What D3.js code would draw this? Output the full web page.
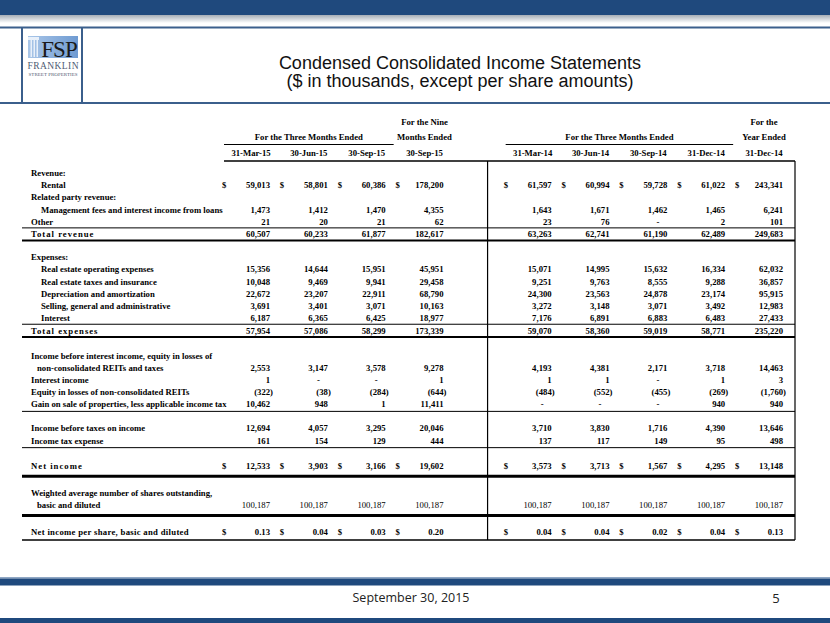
<!DOCTYPE html>
<html><head><meta charset="utf-8">
<script src="https://cdn.jsdelivr.net/npm/d3@7"></script>
<style>body{margin:0;background:#fff}svg{display:block}</style>
</head><body><svg id="c" width="830" height="623"></svg>
<script>
const _ = null;
const rowLabels = ["Revenue:","Rental","Related party revenue:","Management fees and interest income from loans","Other","Total revenue","",
"Expenses:","Real estate operating expenses","Real estate taxes and insurance","Depreciation and amortization","Selling, general and administrative","Interest","Total expenses","",
"Income before interest income, equity in losses of","non-consolidated REITs and taxes","Interest income","Equity in losses of non-consolidated REITs","Gain on sale of properties, less applicable income tax","",
"Income before taxes on income","Income tax expense","","Net income","","Weighted average number of shares outstanding,","basic and diluted","","Net income per share, basic and diluted"];
const colDates = ["31-Mar-15","30-Jun-15","30-Sep-15","30-Sep-15","31-Mar-14","30-Jun-14","30-Sep-14","31-Dec-14","31-Dec-14"];
const groupHeaders = [
  {from:0,to:2,lines:["For the Three Months Ended"],rule:true},
  {from:3,to:3,lines:["For the Nine","Months Ended"],rule:false},
  {from:4,to:7,lines:["For the Three Months Ended"],rule:true},
  {from:8,to:8,lines:["For the","Year Ended"],rule:false}];
const q1_2015 = [_,59013,_,1473,21,60507,_,_,15356,10048,22672,3691,6187,57954,_,_,2553,1,-322,10462,_,12694,161,_,12533,_,_,100187,_,0.13];
const q2_2015 = [_,58801,_,1412,20,60233,_,_,14644,9469,23207,3401,6365,57086,_,_,3147,0,-38,948,_,4057,154,_,3903,_,_,100187,_,0.04];
const q3_2015 = [_,60386,_,1470,21,61877,_,_,15951,9941,22911,3071,6425,58299,_,_,3578,0,-284,1,_,3295,129,_,3166,_,_,100187,_,0.03];
const nine_2015 = [_,178200,_,4355,62,182617,_,_,45951,29458,68790,10163,18977,173339,_,_,9278,1,-644,11411,_,20046,444,_,19602,_,_,100187,_,0.20];
const q1_2014 = [_,61597,_,1643,23,63263,_,_,15071,9251,24300,3272,7176,59070,_,_,4193,1,-484,0,_,3710,137,_,3573,_,_,100187,_,0.04];
const q2_2014 = [_,60994,_,1671,76,62741,_,_,14995,9763,23563,3148,6891,58360,_,_,4381,1,-552,0,_,3830,117,_,3713,_,_,100187,_,0.04];
const q3_2014 = [_,59728,_,1462,0,61190,_,_,15632,8555,24878,3071,6883,59019,_,_,2171,0,-455,0,_,1716,149,_,1567,_,_,100187,_,0.02];
const q4_2014 = [_,61022,_,1465,2,62489,_,_,16334,9288,23174,3492,6483,58771,_,_,3718,1,-269,940,_,4390,95,_,4295,_,_,100187,_,0.04];
const fy_2014 = [_,243341,_,6241,101,249683,_,_,62032,36857,95915,12983,27433,235220,_,_,14463,3,-1760,940,_,13646,498,_,13148,_,_,100187,_,0.13];
const columns = [q1_2015,q2_2015,q3_2015,nine_2015,q1_2014,q2_2014,q3_2014,q4_2014,fy_2014];

const svg = d3.select("#c");
const blue = "#1f497d";
// ---- frame ----
const defs = svg.append("defs");
const sh = defs.append("linearGradient").attr("id","sh").attr("x1",0).attr("x2",0).attr("y1",0).attr("y2",1);
sh.append("stop").attr("offset",0).attr("stop-color","#9aa3ad");
sh.append("stop").attr("offset",1).attr("stop-color","#ffffff");
svg.append("rect").attr("x",0).attr("y",14).attr("width",830).attr("height",9).attr("fill","url(#sh)");
svg.append("rect").attr("x",0).attr("y",0).attr("width",830).attr("height",15).attr("fill",blue);
svg.append("line").attr("x1",0).attr("x2",830).attr("y1",27.5).attr("y2",27.5).attr("stroke","#3b5f8c").attr("stroke-width",2);
svg.append("line").attr("x1",0).attr("x2",830).attr("y1",103).attr("y2",103).attr("stroke","#3b5f8c").attr("stroke-width",2);
[22,82].forEach(x=>svg.append("line").attr("x1",x).attr("x2",x).attr("y1",27).attr("y2",103).attr("stroke","#3b5f8c").attr("stroke-width",2));
// logo
const lg = defs.append("linearGradient").attr("id","lg").attr("x1",0).attr("x2",1);
lg.append("stop").attr("offset",0).attr("stop-color","#a9c6e8");
lg.append("stop").attr("offset",1).attr("stop-color","#6f9bd2");
svg.append("rect").attr("x",28).attr("y",36).attr("width",50).attr("height",22).attr("fill","url(#lg)");
[30.5,33.5,36.5].forEach(x=>svg.append("rect").attr("x",x).attr("y",40).attr("width",1.5).attr("height",17).attr("fill","#e8f0fa"));
svg.append("rect").attr("x",28).attr("y",37).attr("width",11).attr("height",3).attr("fill","#e8f0fa");
svg.append("text").attr("x",59).attr("y",56.5).attr("text-anchor","middle").attr("font-family","Liberation Serif").attr("font-size",23).attr("fill","#1a1a1a").attr("letter-spacing",-1).text("FSP");
svg.append("text").attr("x",53).attr("y",69).attr("text-anchor","middle").attr("font-family","Liberation Serif").attr("font-size",9.5).attr("fill","#4f5b73").attr("textLength",51).text("FRANKLIN");
svg.append("text").attr("x",53).attr("y",76).attr("text-anchor","middle").attr("font-family","Liberation Serif").attr("font-size",5).attr("fill","#4f5b73").attr("textLength",49).text("STREET PROPERTIES");
// title
svg.append("text").attr("x",460).attr("y",68.5).attr("text-anchor","middle").attr("font-family","Liberation Sans, Arial").attr("font-size",18).attr("fill","#111").text("Condensed Consolidated Income Statements");
svg.append("text").attr("x",460).attr("y",87).attr("text-anchor","middle").attr("font-family","Liberation Sans, Arial").attr("font-size",18).attr("fill","#111").text("($ in thousands, except per share amounts)");
// footer
svg.append("rect").attr("x",0).attr("y",577).attr("width",830).attr("height",1.5).attr("fill","#8fa7c4");
svg.append("rect").attr("x",0).attr("y",578.5).attr("width",830).attr("height",7).attr("fill",blue);
svg.append("rect").attr("x",0).attr("y",618).attr("width",830).attr("height",5).attr("fill",blue);
svg.append("text").attr("x",411).attr("y",602).attr("text-anchor","middle").attr("font-family","Open Sans").attr("font-size",12.5).attr("fill","#222").text("September 30, 2015");
svg.append("text").attr("x",776).attr("y",603).attr("text-anchor","middle").attr("font-family","Open Sans").attr("font-size",13).attr("fill","#222").text("5");

// ---- table ----
const font = "Liberation Serif, Times New Roman, serif";
const fs = 8.7;
const pitch = 12.2;
const spacerSize = {6:10.8, 14:12.8, 20:11.8, 23:12.8, 25:14.8, 28:14.8};
const cum = [];
rowLabels.forEach((t,i)=>{ cum.push(i===0?0:cum[i-1] + (spacerSize[i]!==undefined?spacerSize[i]:pitch)); });
const y = d3.scaleLinear().domain([0, cum[cum.length-1]]).range([173, 532]);
const yr = i => y(cum[i]);
const slot = [0,1,2,3,4.87,5.87,6.87,7.87,8.87];
const xr = d3.scaleLinear().domain([0,8.87]).range([270,783]);
const right = i => xr(slot[i]);
const tableL = 22, tableR = 795, sepX = (right(3)+right(4))/2 - 10;
const labelSpacing = {5:1, 13:1, 24:1, 29:0.3};
const dollarRows = new Set([1,24,29]);
const indent = {1:10,3:10,8:10,9:10,10:10,11:10,12:10,16:6,27:6};
const g = svg.append("g").attr("font-family",font).attr("font-size",fs).attr("font-weight","bold").attr("fill","#000");

// headers
groupHeaders.forEach(h=>{
  const cx = (right(h.from)+right(h.to))/2 - 19;
  const n = h.lines.length;
  h.lines.forEach((t,k)=>{
    g.append("text").attr("x",cx).attr("y",137 - (n-1-k)*15 + 3).attr("text-anchor","middle").text(t);
  });
  if(h.rule){
    g.append("line").attr("x1",right(h.from)-46).attr("x2",right(h.to)+8).attr("y1",144.5).attr("y2",144.5).attr("stroke","#000").attr("stroke-width",1);
  }
});
colDates.forEach((d,i)=>g.append("text").attr("x",right(i)-19).attr("y",156).attr("text-anchor","middle").text(d));
g.append("line").attr("x1",right(0)-46).attr("x2",tableR).attr("y1",161).attr("y2",161).attr("stroke","#000").attr("stroke-width",1.5);

// labels
rowLabels.forEach((t,i)=>{
  if(!t) return;
  g.append("text").attr("x",31+(indent[i]||0)).attr("y",yr(i)).attr("dy","0.35em")
   .attr("letter-spacing",labelSpacing[i]||0).text(t);
});
// values
const fmtInt = d3.format(",");
const fmtEps = d3.format(".2f");
columns.forEach((col,ci)=>{
  const rx = right(ci);
  col.forEach((v,ri)=>{
    if(v===null) return;
    let s, x = rx;
    if(ri===29) s = fmtEps(v);
    else if(v===0){ s="-"; x = rx-8; }
    else if(v<0){ s="("+fmtInt(-v)+")"; x = rx+3; }
    else s = fmtInt(v);
    g.append("text").attr("x",x).attr("y",yr(ri)).attr("dy","0.35em").attr("text-anchor","end")
     .attr("font-weight", ri===27?"normal":"bold").text(s);
    if(dollarRows.has(ri)) g.append("text").attr("x",rx-48).attr("y",yr(ri)).attr("dy","0.35em").text("$");
  });
});
// rules
const rule = (yy,w)=>g.append("line").attr("x1",tableL).attr("x2",tableR).attr("y1",yy).attr("y2",yy).attr("stroke","#000").attr("stroke-width",w);
rule(yr(4)+6,1); rule(yr(5)+6.5,2);
rule(yr(12)+6,1); rule(yr(13)+6.5,2);
rule(yr(19)+7,1);
rule(yr(22)+7,1);
rule(yr(24)+10.5,3);
rule(yr(27)+10.5,3);
rule(yr(29)+8,1.5);
[sepX,tableR].forEach(x=>g.append("line").attr("x1",x).attr("x2",x).attr("y1",161).attr("y2",yr(29)+8).attr("stroke","#000").attr("stroke-width",1.2));
</script></body></html>
